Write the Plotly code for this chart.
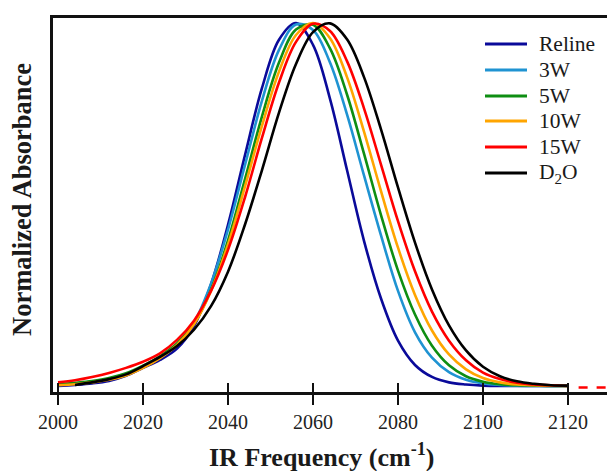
import plotly.graph_objects as go

# ---- data ----
freq = [2000, 2004, 2008, 2012, 2016, 2020, 2024, 2028, 2032, 2036, 2040,
        2044, 2048, 2052, 2056, 2060, 2064, 2068, 2072, 2076, 2080,
        2084, 2088, 2092, 2096, 2100, 2104, 2108, 2112, 2116, 2120]
freq_d2o = freq[1:]

reline = [0.000, 0.003, 0.007, 0.014, 0.028, 0.050, 0.072, 0.103, 0.165, 0.280, 0.444,
          0.636, 0.821, 0.954, 1.000, 0.940, 0.791, 0.595, 0.400, 0.241, 0.125,
          0.058, 0.025, 0.010, 0.004, 0.001, 0.000, 0.000, 0.000, 0.000, 0.000]
w3 = [0.004, 0.007, 0.012, 0.020, 0.033, 0.054, 0.080, 0.115, 0.175, 0.282, 0.431,
      0.609, 0.786, 0.926, 0.996, 0.981, 0.891, 0.748, 0.580, 0.415, 0.262,
      0.148, 0.078, 0.038, 0.017, 0.007, 0.003, 0.001, 0.000, 0.000, 0.000]
w5 = [0.005, 0.009, 0.014, 0.022, 0.035, 0.056, 0.082, 0.117, 0.172, 0.265, 0.401,
      0.570, 0.743, 0.891, 0.982, 0.995, 0.930, 0.803, 0.640, 0.471, 0.318,
      0.197, 0.111, 0.057, 0.027, 0.012, 0.005, 0.002, 0.001, 0.000, 0.000]
w10 = [0.002, 0.005, 0.010, 0.017, 0.029, 0.050, 0.077, 0.113, 0.170, 0.262, 0.390,
       0.550, 0.717, 0.866, 0.967, 1.000, 0.958, 0.851, 0.701, 0.537, 0.381,
       0.251, 0.153, 0.087, 0.046, 0.022, 0.010, 0.004, 0.002, 0.001, 0.000]
w15 = [0.010, 0.016, 0.025, 0.036, 0.050, 0.067, 0.090, 0.127, 0.180, 0.262, 0.375,
       0.520, 0.684, 0.836, 0.948, 0.998, 0.978, 0.895, 0.765, 0.610, 0.454,
       0.316, 0.205, 0.125, 0.071, 0.037, 0.019, 0.009, 0.004, 0.002, 0.000]
d2o = [0.003, 0.010, 0.019, 0.032, 0.055, 0.080, 0.110, 0.155, 0.220, 0.315,
       0.445, 0.595, 0.753, 0.887, 0.975, 0.999, 0.955, 0.851, 0.707, 0.547,
       0.395, 0.266, 0.167, 0.098, 0.053, 0.027, 0.013, 0.006, 0.002, 0.001]

tail_freq = [2122.5, 2131.0]
tail_vals = [-0.004, -0.004]

names = ["Reline", "3W", "5W", "10W", "15W", "D<sub>2</sub>O"]
colors = ["#0A0A9A", "#1F93D2", "#0E8E12", "#FFA500", "#FF0000", "#000000"]
xs = [freq, freq, freq, freq, freq, freq_d2o]
ys = [reline, w3, w5, w10, w15, d2o]

xticks = [2000, 2020, 2040, 2060, 2080, 2100, 2120]

SERIF = "Liberation Serif"
TXT = "#1a1a1a"

# plot-area geometry helpers (pixels -> paper)
L, R, T, B = 53, 607, 18, 392
def px(x):
    return (x - L) / (R - L)
def py(y):
    return (B - y) / (B - T)

fig = go.Figure()
for x, y, n, c in zip(xs, ys, names, colors):
    fig.add_trace(go.Scatter(x=x, y=y, name=n, mode="lines",
                             line=dict(color=c, width=2.6, shape="spline"),
                             showlegend=False))
fig.add_trace(go.Scatter(x=tail_freq, y=tail_vals, mode="lines", xaxis="x2",
                         line=dict(color="#FF0000", width=2.6, dash="dash"),
                         showlegend=False, hoverinfo="skip"))

xr = [1998.82, 2129.18]
yr = [-0.0165, 1.0138]

fig.update_layout(
    width=607, height=471,
    margin=dict(l=L, r=607 - R, t=T, b=471 - B),
    paper_bgcolor="white", plot_bgcolor="white",
    showlegend=False,
    xaxis=dict(range=xr, tickvals=xticks, ticks="outside", ticklen=10,
               tickwidth=2, tickcolor="#111", showline=True, linewidth=2.5,
               linecolor="#111", mirror=True, showgrid=False, zeroline=False,
               tickfont=dict(family=SERIF, size=20, color="#222")),
    xaxis2=dict(range=xr, overlaying="x", anchor="y", side="bottom",
                tickvals=xticks, ticks="inside", ticklen=9, tickwidth=2,
                tickcolor="#111", showticklabels=False, showline=False,
                showgrid=False, zeroline=False),
    yaxis=dict(range=yr, showticklabels=False, ticks="", showline=True,
               linewidth=2.5, linecolor="#111", showgrid=False, zeroline=False),
)

annotations = [
    dict(text="<b>IR Frequency (cm<sup>-1</sup>)</b>", x=px(322), y=py(455),
         xref="paper", yref="paper", showarrow=False, xanchor="center",
         yanchor="middle", font=dict(family=SERIF, size=26, color=TXT)),
    dict(text="<b>Normalized Absorbance</b>", x=px(22), y=py(200),
         xref="paper", yref="paper", showarrow=False, textangle=-90,
         xanchor="center", yanchor="middle",
         font=dict(family=SERIF, size=26.5, color=TXT)),
]
shapes = []
rows = [44, 70, 96, 121, 147, 173]
for n, c, r in zip(names, colors, rows):
    shapes.append(dict(type="line", xref="paper", yref="paper",
                       x0=px(485), x1=px(527), y0=py(r), y1=py(r),
                       line=dict(color=c, width=3)))
    annotations.append(dict(text=n, x=px(537), y=py(r), xref="paper", yref="paper",
                            showarrow=False, xanchor="left", yanchor="middle",
                            font=dict(family=SERIF, size=21.5, color=TXT)))
fig.update_layout(annotations=annotations, shapes=shapes)

fig.write_html("out.html")
